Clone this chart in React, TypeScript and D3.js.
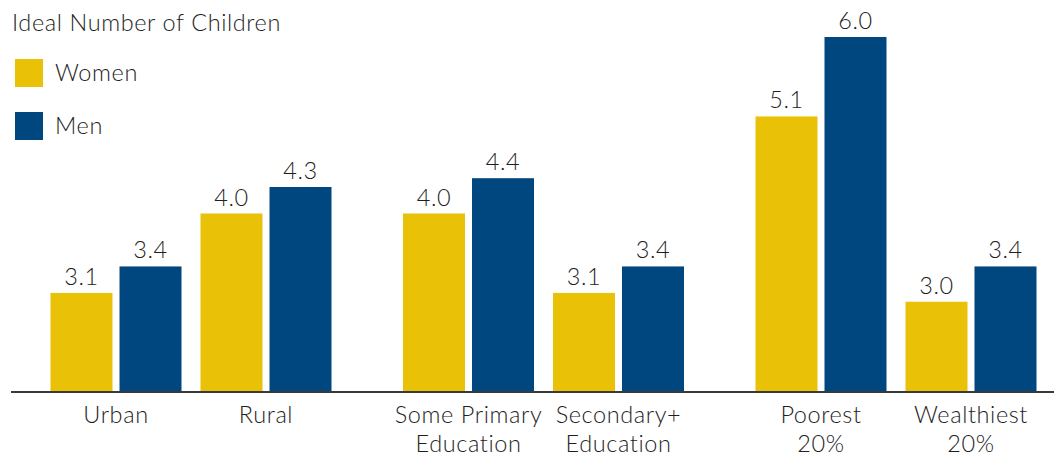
import React from "react";
import * as d3 from "d3";

const groups = ["Residence", "Education", "Wealth"];
const categories = [
  { group: "Residence", lines: ["Urban"] },
  { group: "Residence", lines: ["Rural"] },
  { group: "Education", lines: ["Some Primary", "Education"] },
  { group: "Education", lines: ["Secondary+", "Education"] },
  { group: "Wealth", lines: ["Poorest", "20%"] },
  { group: "Wealth", lines: ["Wealthiest", "20%"] },
];
const women = [3.1, 4.0, 4.0, 3.1, 5.1, 3.0];
const men = [3.4, 4.3, 4.4, 3.4, 6.0, 3.4];
const seriesNames = ["Women", "Men"];
const seriesColors = ["#E9C107", "#00467F"];
const title = "Ideal Number of Children";

const W = 1054;
const H = 455;
const FONT = "Lato, 'Open Sans', sans-serif";
const TEXT = "#1e1e1e";
const FS = 23.5;
const FW = 300;
const LS = 0.6;

export default function App() {
  const outer = d3.scaleBand<string>().domain(groups).range([14.75, 1072.25]);
  const y = d3.scaleLinear().domain([2, 6]).range([390, 37]);
  const baseY = 391;
  const catStep = 150;
  const barW = 62;
  const gap = 7;

  const catCenter = (i: number) => {
    const g = categories[i].group;
    const gc = (outer(g) as number) + outer.bandwidth() / 2;
    const idx = categories.filter((c) => c.group === g).indexOf(categories[i]);
    return gc + (idx - 0.5) * catStep;
  };

  const seriesVals = [women, men];
  const txt = { fontSize: FS, fontWeight: FW, fill: TEXT, letterSpacing: LS } as const;

  return (
    <svg width={W} height={H} style={{ position: "absolute", left: 0, top: 0, background: "#fff" }} fontFamily={FONT}>
      <text x={12} y={31} {...txt}>{title}</text>
      {seriesNames.map((s, k) => (
        <g key={s}>
          <rect x={15} y={59 + k * 53} width={28} height={28} fill={seriesColors[k]} />
          <text x={55} y={81 + k * 53} {...txt}>{s}</text>
        </g>
      ))}
      {categories.map((c, i) => {
        const cx = catCenter(i);
        return (
          <g key={i}>
            {seriesVals.map((vals, k) => {
              const bx = k === 0 ? cx - gap / 2 - barW : cx + gap / 2;
              const by = y(vals[i]);
              return (
                <g key={k}>
                  <rect x={bx} y={by} width={barW} height={baseY - by} fill={seriesColors[k]} />
                  <text x={bx + barW / 2} y={by - 8} textAnchor="middle" {...txt}>
                    {vals[i].toFixed(1)}
                  </text>
                </g>
              );
            })}
            {c.lines.map((ln, j) => (
              <text key={j} x={cx} y={423 + j * 28.5} textAnchor="middle" {...txt}>{ln}</text>
            ))}
          </g>
        );
      })}
      <line x1={11} x2={W} y1={392} y2={392} stroke="#3a3a3a" strokeWidth={2} />
    </svg>
  );
}
